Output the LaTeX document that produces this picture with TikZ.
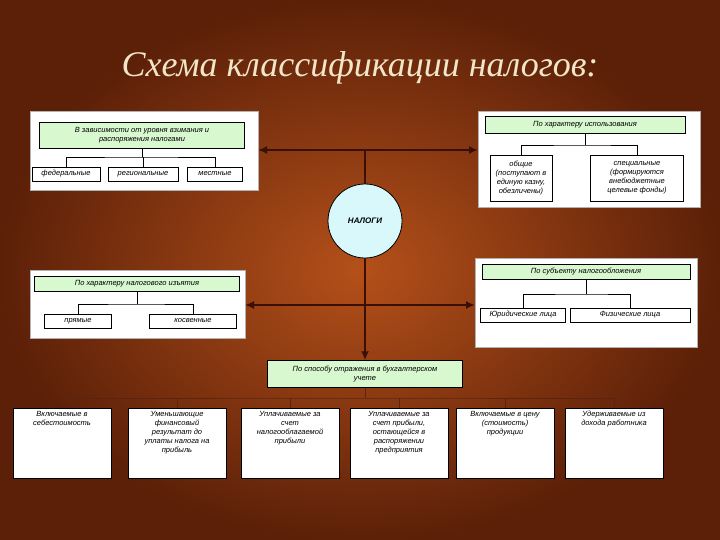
\documentclass[tikz,border=0pt]{standalone}
\usepackage{fontspec}
\setmainfont{Liberation Sans}
\newfontfamily\titlefont{Liberation Serif}
\usetikzlibrary{arrows.meta}
\definecolor{bgin}{HTML}{B4501A}
\definecolor{bgout}{HTML}{5C2008}
\definecolor{hdr}{HTML}{D8F8D0}
\definecolor{cyanf}{HTML}{D8F8FC}
\definecolor{cream}{HTML}{F2E6C8}
\definecolor{arr}{HTML}{3A1006}
\definecolor{bline}{HTML}{5A2410}
\newcommand{\tb}[1]{\parbox[t][64pt][t]{92pt}{\centering #1}}
\tikzset{
  panel/.style={draw=gray!60, fill=white, line width=0.6pt},
  hbox/.style={draw=black, fill=hdr, line width=0.5pt, align=center, font=\itshape\fontsize{7.5}{9}\selectfont, inner sep=1pt},
  ibox/.style={draw=black, fill=white, line width=0.5pt, align=center, font=\itshape\fontsize{7.5}{9}\selectfont, inner sep=1pt},
  tbox/.style={draw=black, fill=white, line width=0.5pt, anchor=north, font=\itshape\fontsize{7.5}{9}\selectfont, inner sep=3pt},
  thin/.style={draw=black, line width=0.5pt},
  tip/.tip={Latex[length=9pt,width=8pt]},
  big/.style={draw=arr, line width=2pt},
}
\begin{document}
\begin{tikzpicture}[x=1pt,y=-1pt]
\useasboundingbox (0,0) rectangle (720,540);
\shade[inner color=bgin, outer color=bgout] (0,0) rectangle (720,540);
\node[font=\titlefont\itshape\fontsize{36}{40}\selectfont, text=cream] (title) at (360,68) {Схема классификации налогов:};
% panels
\draw[panel] (30,111) rectangle (258,190);
\draw[panel] (478,111) rectangle (700,207);
\draw[panel] (30,270) rectangle (245,338);
\draw[panel] (475,258) rectangle (697,347);
% circle
\node[draw=black, fill=cyanf, circle, font=\itshape\bfseries\fontsize{8}{9}\selectfont, line width=0.8pt, inner sep=0pt, minimum size=74pt] (nal) at (365,221) {НАЛОГИ};
% top-left
\node[hbox, minimum width=205pt, minimum height=26pt] (h1) at (142,135) {В зависимости от уровня взимания и\\распоряжения налогами};
\node[ibox, minimum width=68pt, minimum height=14pt] (f1) at (66,174) {федеральные};
\node[ibox, minimum width=70pt, minimum height=14pt] (f2) at (143,174) {региональные};
\node[ibox, minimum width=55pt, minimum height=14pt] (f3) at (215,174) {местные};
\coordinate (j1) at (142,157);
\draw[thin] (h1.south) -- (j1); \draw[thin] (f1.north) |- (j1) -| (f3.north); \draw[thin] (f2.north |- j1) -- (f2.north);
% top-right
\node[hbox, minimum width=200pt, minimum height=17pt] (h2) at (585,125) {По характеру использования};
\node[ibox, minimum width=62pt, minimum height=46pt] (g1) at (521,178) {общие\\(поступают в\\единую казну,\\обезличены)};
\node[ibox, minimum width=93pt, minimum height=46pt] (g2) at (637,178) {специальные\\(формируются\\внебюджетные\\целевые фонды)};
\coordinate (j2) at (585,145);
\draw[thin] (h2.south) -- (j2); \draw[thin] (g1.north) |- (j2) -| (g2.north);
% mid-left
\node[hbox, minimum width=205pt, minimum height=15pt] (h3) at (137,284) {По характеру налогового изъятия};
\node[ibox, minimum width=67pt, minimum height=14pt] (p1) at (78,321) {прямые};
\node[ibox, minimum width=87pt, minimum height=14pt] (p2) at (193,321) {косвенные};
\coordinate (j3) at (137,304);
\draw[thin] (h3.south) -- (j3); \draw[thin] (p1.north) |- (j3) -| (p2.north);
% mid-right
\node[hbox, minimum width=208pt, minimum height=15pt] (h4) at (586,272) {По субъекту налогообложения};
\node[ibox, minimum width=85pt, minimum height=14pt] (s1) at (523,315) {Юридические лица};
\node[ibox, minimum width=120pt, minimum height=14pt] (s2) at (630,315) {Физические лица};
\coordinate (j4) at (586,294);
\draw[thin] (h4.south) -- (j4); \draw[thin] (s1.north) |- (j4) -| (s2.north);
% main arrows
\coordinate (c1) at (365,150);
\draw[big, tip-tip] (258,150) -- (478,150);
\draw[big] (c1) -- (nal.north);
\draw[big, tip-tip] (245,305) -- (475,305);
% bottom
\node[hbox, minimum width=195pt, minimum height=27pt] (h5) at (365,374) {По способу отражения в бухгалтерском\\учете};
\draw[big, -tip] (nal.south) -- (h5.north);
\node[tbox] (b1) at (62,408) {\tb{Включаемые в\\себестоимость}};
\node[tbox] (b2) at (177,408) {\tb{Уменьшающие\\финансовый\\результат до\\уплаты налога на\\прибыль}};
\node[tbox] (b3) at (290,408) {\tb{Уплачиваемые за\\счет\\налогооблагаемой\\прибыли}};
\node[tbox] (b4) at (399,408) {\tb{Уплачиваемые за\\счет прибыли,\\остающейся в\\распоряжении\\предприятия}};
\node[tbox] (b5) at (505,408) {\tb{Включаемые в цену\\(стоимость)\\продукции}};
\node[tbox] (b6) at (614,408) {\tb{Удерживаемые из\\дохода работника}};
\coordinate (j5) at (365,398);
\draw[draw=bline, line width=0.8pt] (h5.south) -- (j5);
\draw[draw=bline, line width=0.8pt] (b1.north) |- (j5) -| (b6.north);
\foreach \b in {b2,b3,b4,b5} \draw[draw=bline, line width=0.8pt] (\b.north |- j5) -- (\b.north);
\end{tikzpicture}
\end{document}
